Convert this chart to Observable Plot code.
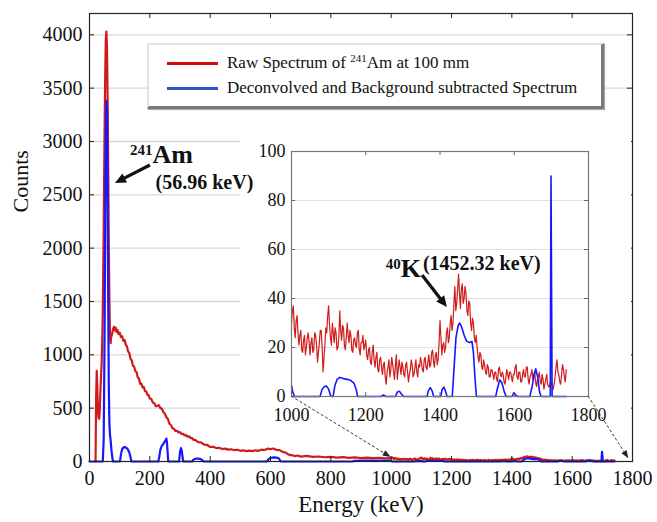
<!DOCTYPE html>
<html><head><meta charset="utf-8">
<script src="https://cdn.jsdelivr.net/npm/d3@7"></script>
<script src="https://cdn.jsdelivr.net/npm/@observablehq/plot@0.6"></script>
<style>
body{margin:0;background:#fff;}
#wrap{position:relative;width:657px;height:522px;font-family:"Liberation Serif",serif;overflow:hidden;}
#wrap > *{position:absolute;}
#wrap svg text{font-family:"Liberation Serif","Times New Roman",serif !important;}
.legend{left:147px;top:43px;width:452px;height:61px;background:#fff;border-top:2px solid #e2e2e2;border-left:2px solid #e2e2e2;border-right:3px solid #7a7a7a;border-bottom:3px solid #7a7a7a;box-shadow:1px 1px 1px #aaa;}
.legend .row{position:absolute;left:0;height:20px;font-size:17px;color:#111;white-space:nowrap;}
.legend .sw{position:absolute;left:18px;top:9px;width:51px;height:3px;}
.legend .tx{position:absolute;left:78px;top:0;line-height:20px;}
.legend sup{font-size:11px;vertical-align:6px;line-height:0;}
</style></head><body><div id="wrap"></div>
<script>
// ---------- data ----------
const mainTicksX = [0, 200, 400, 600, 800, 1000, 1200, 1400, 1600, 1800];
const mainTicksY = [0, 500, 1000, 1500, 2000, 2500, 3000, 3500, 4000];
const insetTicksX = [1000, 1200, 1400, 1600, 1800];
const insetTicksY = [0, 20, 40, 60, 80, 100];

// raw spectrum, low-energy part [keV, counts]
const rawLow = [[20,0],[22,600],[24,850],[26,690],[28,470],[30,410],[32,400],[34,480],[36,640],[38,790],[40,900],[42,1100],[44,1400],[46,1900],[48,2500],[50,3100],[52,3600],[54,3950],[56,4030],[58,3880],[60,3400],[62,2750],[64,2050],[66,1500],[68,1180],[70,1110],[72,1170],[75,1195],[78,1240],[81,1262],[84,1228],[87,1255],[90,1215],[93,1232],[96,1195],[100,1208],[104,1168],[108,1175],[112,1132],[116,1140],[120,1098],[124,1080],[128,1032],[132,1015],[136,962],[140,950],[144,898],[148,888],[152,846],[156,838],[160,788],[164,779],[168,728],[172,731],[176,694],[180,699],[184,660],[188,658],[192,624],[196,622],[200,590],[205,586],[210,552],[215,546],[220,518],[225,522],[230,528],[235,500],[240,496],[245,462],[250,448],[255,414],[260,398],[265,354],[270,342],[275,312],[280,306],[285,286],[290,288],[295,272],[300,276],[305,258],[310,260],[315,244],[320,248],[325,232],[330,236],[335,220],[340,220],[345,202],[350,202],[360,182],[370,178],[380,158],[390,155],[400,136],[410,138],[420,126],[430,129],[440,117],[450,121],[460,111],[470,115],[480,106],[490,110],[500,100],[510,105],[520,97],[530,102],[540,97],[550,105],[560,100],[570,111],[580,108],[590,120],[600,116],[610,122],[620,108],[630,107],[640,90],[650,84],[660,64],[670,60],[680,51],[690,56],[700,46],[720,52],[740,43],[760,47],[780,40],[800,44],[820,36],[840,41],[860,34],[880,39],[900,33],[920,37],[940,31],[960,35],[980,30],[995,33]];
// raw spectrum, inset part: channel energies (2.5 keV channels) and counts
const rawHighE = d3.range(1000, 1741, 2.5);
const rawHighC = [
 30,35,37,28,24,31,33,26,21,25,27,19,18,23,25,17,20,24,26,22,
 17,22,24,18,19,26,25,21,14,18,22,27,27,20,10,16,21,28,26,33,
 37,29,24,21,30,26,22,28,26,19,20,24,35,27,23,29,28,21,19,24,
 30,25,22,27,25,19,18,23,24,21,20,26,27,19,17,22,22,25,19,21,
 23,17,15,19,20,14,13,18,21,15,12,16,18,11,10,15,16,12,9,13,
 14,8,5,10,12,15,8,11,16,13,10,7,13,17,7,11,15,12,9,14,
 12,9,8,13,14,10,6,9,11,15,13,8,9,12,15,10,8,13,12,16,
 14,11,10,15,16,12,11,14,17,12,13,18,19,14,12,17,18,13,15,22,
 31,24,17,21,22,18,20,26,28,22,24,30,33,27,30,38,45,35,38,44,
 50,42,36,44,46,38,40,45,42,35,33,39,38,30,27,32,30,24,22,25,
 20,16,14,18,17,12,11,15,13,10,9,13,12,8,8,11,11,9,7,10,
 10,7,6,11,12,9,8,10,9,6,5,8,11,9,7,10,10,8,6,9,
 9,12,13,8,7,10,10,6,6,9,11,8,8,12,12,7,5,8,9,11,
 7,9,10,6,4,7,8,10,6,5,9,7,3,5,7,9,5,4,4,6,
 6,4,3,5,8,12,15,10,9,6,5,9,13,11,8,6,11];
// deconvolved spectrum, low-energy part [keV, counts]
const decLow = [[0,0],[44,0],[47,200],[50,1200],[53,2700],[56,3380],[58,3300],[60,2500],[62,1500],[64,700],[66,350],[68,250],[70,200],[73,100],[76,30],[78,0],[101,0],[104,60],[108,115],[112,130],[117,135],[122,128],[127,115],[132,85],[136,40],[139,0],[228,0],[231,40],[235,110],[240,150],[245,165],[249,185],[252,200],[255,215],[257,170],[259,90],[261,0],[297,0],[300,90],[303,125],[306,100],[309,30],[311,0],[340,0],[344,15],[350,25],[358,28],[366,25],[373,15],[378,0],[588,0],[593,20],[600,33],[610,38],[620,37],[628,28],[634,0],[870,0],[880,6],[900,8],[950,8],[995,8]];
// deconvolved spectrum, inset part [keV, counts]
const decHigh = [[1000,4.5],[1003,2],[1008,0],[1077,0],[1082,2.8],[1088,4],[1094,4.3],[1100,3],[1105,0.5],[1108,0],[1112,0],[1117,4.5],[1123,7],[1130,7.8],[1140,7.3],[1150,7],[1160,6.5],[1168,5.5],[1174,3],[1178,0],[1240,0],[1248,0.6],[1254,0],[1280,0],[1285,1.8],[1291,2.1],[1297,0.8],[1302,0],[1365,0],[1369,2.5],[1374,3.6],[1379,2.2],[1383,0],[1402,0],[1406,3],[1411,3.8],[1415,2],[1419,0],[1433,0],[1438,12],[1443,24],[1449,29],[1453,30],[1458,28.5],[1465,25],[1472,22.5],[1480,22],[1486,22.5],[1490,18],[1494,8],[1498,0],[1550,0],[1555,3.5],[1561,6.8],[1567,5.5],[1573,2],[1578,0],[1594,0],[1599,1.6],[1604,0.6],[1609,0],[1642,0],[1648,4],[1654,9],[1658,11.3],[1663,8],[1668,2],[1672,0],[1697,0],[1699,90],[1702,0],[1740,0]];

// annotations (data coordinates)
const amNote = {x: 209, y: 2795, sx: 219, sy: 2559, tail: [202, 2775], head: [86, 2606]};
const kNote = {x: 1294, y: 48.6, sx: 1354, sy: 51.8, tail: [1353, 49.4], head: [1420, 36.3]};

// ---------- assemble ----------
const raw = rawLow.map(([e, c]) => ({e, c})).concat(rawHighE.map((e, i) => ({e, c: rawHighC[i]})));
const dec = decLow.concat(decHigh).map(([e, c]) => ({e, c}));
const rawIn = rawHighE.map((e, i) => ({e, c: rawHighC[i]}));
const decIn = decHigh.map(([e, c]) => ({e, c}));

const RED = "#cf1b1b", BLUE = "#1717ff";
const FONT = "'Liberation Serif', 'Times New Roman', serif";
const W = 657, H = 522, mL = 89, mR = 25, mT = 13, mB = 61;
const fw = W - mL - mR, fh = H - mT - mB;
const wrap = document.getElementById("wrap");

const main = Plot.plot({
  width: W, height: H, marginLeft: mL, marginRight: mR, marginTop: mT, marginBottom: mB,
  style: {fontFamily: FONT, fontSize: "20px", background: "transparent", color: "#111"},
  x: {domain: [0, 1800], ticks: mainTicksX, tickSize: 0, tickPadding: 9, label: null, tickFormat: d => String(d)},
  y: {domain: [0, 4200], ticks: mainTicksY, tickSize: 0, tickPadding: 7, label: null, tickFormat: d => String(d)},
  marks: [
    Plot.ruleY(mainTicksY.filter(d => d > 0), {y: d => d, stroke: "#d8d8d8", strokeWidth: 1.3}),
    Plot.line(raw, {x: "e", y: "c", stroke: RED, strokeWidth: 2.2}),
    Plot.line(dec, {x: "e", y: "c", stroke: BLUE, strokeWidth: 2.2}),
    Plot.tickY(mainTicksY, {y: d => d, insetRight: fw - 5, stroke: "#222"}),
    Plot.tickY(mainTicksY, {y: d => d, insetLeft: fw - 5, stroke: "#222"}),
    Plot.tickX(mainTicksX, {x: d => d, insetTop: fh - 5, stroke: "#222"}),
    Plot.tickX(mainTicksX, {x: d => d, insetBottom: fh - 5, stroke: "#222"}),
    Plot.frame({stroke: "#222", strokeWidth: 1.2}),
    Plot.text(["Counts"], {frameAnchor: "left", dx: -69, dy: -25, rotate: -90, fontSize: 22, text: d => d}),
    Plot.text(["Energy (keV)"], {frameAnchor: "bottom", dy: 50, fontSize: 23, text: d => d})
  ]
});
main.style.left = "0px"; main.style.top = "0px";
wrap.appendChild(main);

// legend
const legend = document.createElement("div");
legend.className = "legend";
legend.innerHTML =
  `<div class="row" style="top:8px"><span class="sw" style="background:#d40a0a"></span><span class="tx">Raw Spectrum of <sup>241</sup>Am at 100 mm</span></div>` +
  `<div class="row" style="top:33px"><span class="sw" style="background:#3550c8"></span><span class="tx">Deconvolved and Background subtracted Spectrum</span></div>`;
wrap.appendChild(legend);

// inset
const iX = 240, iY = 128, iW = 391, iH = 304, iL = 51, iR = 43, iT = 23, iB = 36;
const ifw = iW - iL - iR, ifh = iH - iT - iB;
const inset = Plot.plot({
  width: iW, height: iH, marginLeft: iL, marginRight: iR, marginTop: iT, marginBottom: iB,
  style: {fontFamily: FONT, fontSize: "18px", background: "#fff", color: "#111"},
  x: {domain: [1000, 1800], ticks: insetTicksX, tickSize: 0, tickPadding: 12, label: null, tickFormat: d => String(d)},
  y: {domain: [0, 100], ticks: insetTicksY, tickSize: 0, tickPadding: 6, label: null, tickFormat: d => String(d)},
  marks: [
    Plot.ruleY(insetTicksY.filter(d => d > 0 && d < 100), {y: d => d, stroke: "#e0e0e0", strokeWidth: 1.2}),
    Plot.line(rawIn, {x: "e", y: "c", stroke: RED, strokeWidth: 1.2}),
    Plot.line(decIn, {x: "e", y: "c", stroke: BLUE, strokeWidth: 1.6}),
    Plot.tickY(insetTicksY, {y: d => d, insetRight: ifw - 4, stroke: "#666"}),
    Plot.tickY(insetTicksY, {y: d => d, insetLeft: ifw - 4, stroke: "#666"}),
    Plot.tickX(insetTicksX, {x: d => d, insetTop: ifh - 4, stroke: "#666"}),
    Plot.tickX(insetTicksX, {x: d => d, insetBottom: ifh - 4, stroke: "#666"}),
    Plot.frame({stroke: "#777", strokeWidth: 1.2}),
    Plot.text(["40"], {x: kNote.x, y: kNote.y, text: d => d, textAnchor: "end", lineAnchor: "bottom", dy: -8, fontSize: 15, fontWeight: "bold"}),
    Plot.text(["K"], {x: kNote.x, y: kNote.y, text: d => d, textAnchor: "start", lineAnchor: "bottom", fontSize: 26, fontWeight: "bold"}),
    Plot.text(["(1452.32 keV)"], {x: kNote.sx, y: kNote.sy, text: d => d, textAnchor: "start", lineAnchor: "bottom", fontSize: 20, fontWeight: "bold"})
  ]
});
inset.style.left = iX + "px"; inset.style.top = iY + "px";
wrap.appendChild(inset);

// annotation layer for the 241Am label, on the main plot's scales, above the inset box
const annot = Plot.plot({
  width: W, height: H, marginLeft: mL, marginRight: mR, marginTop: mT, marginBottom: mB,
  style: {fontFamily: FONT, background: "transparent", color: "#111", pointerEvents: "none"},
  x: {domain: [0, 1800], axis: null},
  y: {domain: [0, 4200], axis: null},
  marks: [
    Plot.text(["241"], {x: amNote.x, y: amNote.y, text: d => d, textAnchor: "end", lineAnchor: "bottom", dy: -8, fontSize: 15, fontWeight: "bold"}),
    Plot.text(["Am"], {x: amNote.x, y: amNote.y, text: d => d, textAnchor: "start", lineAnchor: "bottom", fontSize: 26, fontWeight: "bold"}),
    Plot.text(["(56.96 keV)"], {x: amNote.sx, y: amNote.sy, text: d => d, textAnchor: "start", lineAnchor: "bottom", fontSize: 20, fontWeight: "bold"})
  ]
});
annot.style.left = "0px"; annot.style.top = "0px";
wrap.appendChild(annot);

// overlay arrows, positioned through the plots' scales
const xs = main.scale("x"), ys = main.scale("y");
const ixs = inset.scale("x"), iys = inset.scale("y");
const M = ([e, c]) => [xs.apply(e), ys.apply(c)];
const I = ([e, c]) => [iX + ixs.apply(e), iY + iys.apply(c)];
const ov = d3.create("svg").attr("width", W).attr("height", H)
  .style("left", "0px").style("top", "0px").style("pointer-events", "none");
function arrow([x1, y1], [x2, y2], {w = 1, hl = 8, hw = 7, dash = null, color = "#111"} = {}) {
  const dx = x2 - x1, dy = y2 - y1, L = Math.hypot(dx, dy), ux = dx / L, uy = dy / L;
  const bx = x2 - ux * hl, by = y2 - uy * hl;
  ov.append("line").attr("x1", x1).attr("y1", y1).attr("x2", bx + ux * 1).attr("y2", by + uy * 1)
    .attr("stroke", color).attr("stroke-width", w).attr("stroke-dasharray", dash);
  ov.append("path").attr("d", `M${x2},${y2}L${bx - uy * hw / 2},${by + ux * hw / 2}L${bx + uy * hw / 2},${by - ux * hw / 2}Z`)
    .attr("fill", color);
}
arrow(M(amNote.tail), M(amNote.head), {w: 3.2, hl: 11, hw: 10});
arrow(I(kNote.tail), I(kNote.head), {w: 3.2, hl: 11, hw: 10});
arrow(I([1000, 0]), M([1000, 37]), {w: 0.9, hl: 8, hw: 6, dash: "3,2", color: "#222"});
arrow(I([1800, 0]), M([1788, 25]), {w: 0.9, hl: 8, hw: 6, dash: "3,2", color: "#222"});
wrap.appendChild(ov.node());
</script></body></html>
